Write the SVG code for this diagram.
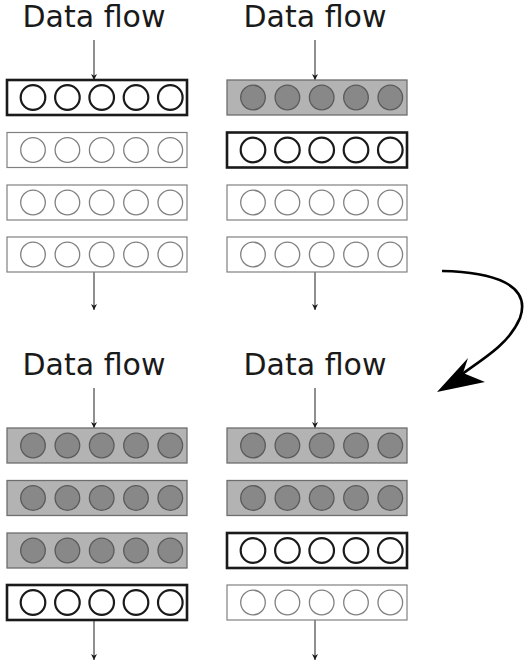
<svg xmlns="http://www.w3.org/2000/svg" width="526" height="669" viewBox="0 0 526 669">
<defs>
<style>
.lbl{font-family:"DejaVu Sans",Verdana,sans-serif;font-size:30px;fill:#1a1a1a;text-anchor:middle}
.thin rect{fill:#fff;stroke:#808080;stroke-width:1.2}
.thin use{fill:#fff;stroke:#808080;stroke-width:1.3}
.thick rect{fill:#fff;stroke:#1a1a1a;stroke-width:2.6}
.thick use{fill:#fff;stroke:#1a1a1a;stroke-width:2.2}
.gray rect{fill:#b3b3b3;stroke:#6e6e6e;stroke-width:1.3}
.gray use{fill:#888;stroke:#5a5a5a;stroke-width:1.3}
.flow{stroke:#333;stroke-width:1.1;fill:none;marker-end:url(#ah)}
</style>
<marker id="ah" viewBox="0 0 10 10" refX="10" refY="5" markerWidth="6" markerHeight="8" markerUnits="userSpaceOnUse" orient="auto">
<path d="M0,0 L10,5 L0,10 L3,5 Z" fill="#1a1a1a"/>
</marker>
<g id="cells">
<circle cx="26" cy="17.5" r="12.3"/><circle cx="60.4" cy="17.5" r="12.3"/><circle cx="94.7" cy="17.5" r="12.3"/><circle cx="129" cy="17.5" r="12.3"/><circle cx="163.3" cy="17.5" r="12.3"/>
</g>
</defs>
<rect width="526" height="669" fill="#fff"/>
<g id="connectors">
<line class="flow" x1="94" y1="40" x2="94" y2="80"/>
<line class="flow" x1="94" y1="272" x2="94" y2="310"/>
<line class="flow" x1="315" y1="40" x2="315" y2="80"/>
<line class="flow" x1="315" y1="272" x2="315" y2="310"/>
<line class="flow" x1="94" y1="388" x2="94" y2="428"/>
<line class="flow" x1="94" y1="620" x2="94" y2="660"/>
<line class="flow" x1="315" y1="388" x2="315" y2="428"/>
<line class="flow" x1="315" y1="620" x2="315" y2="660"/>
<path d="M442,271 C492,272 532,284 520,318 C510,342 488,356 462,374" fill="none" stroke="#000" stroke-width="2.6"/>
<polygon points="437,392 468,358 463,373 485,382" fill="#000"/>
</g>
<g id="panel-top-left">
<text class="lbl" x="94" y="27">Data flow</text>
<g id="tl-1" class="thick" transform="translate(7,80)"><rect width="180" height="35"/><use href="#cells"/></g>
<g id="tl-2" class="thin" transform="translate(7,132.5)"><rect width="180" height="35"/><use href="#cells"/></g>
<g id="tl-3" class="thin" transform="translate(7,185)"><rect width="180" height="35"/><use href="#cells"/></g>
<g id="tl-4" class="thin" transform="translate(7,237)"><rect width="180" height="35"/><use href="#cells"/></g>
</g>
<g id="panel-top-right">
<text class="lbl" x="315" y="27">Data flow</text>
<g id="tr-1" class="gray" transform="translate(227,80)"><rect width="180" height="35"/><use href="#cells"/></g>
<g id="tr-2" class="thick" transform="translate(227,132.5)"><rect width="180" height="35"/><use href="#cells"/></g>
<g id="tr-3" class="thin" transform="translate(227,185)"><rect width="180" height="35"/><use href="#cells"/></g>
<g id="tr-4" class="thin" transform="translate(227,237)"><rect width="180" height="35"/><use href="#cells"/></g>
</g>
<g id="panel-bottom-left">
<text class="lbl" x="94" y="375">Data flow</text>
<g id="bl-1" class="gray" transform="translate(7,428)"><rect width="180" height="35"/><use href="#cells"/></g>
<g id="bl-2" class="gray" transform="translate(7,480.5)"><rect width="180" height="35"/><use href="#cells"/></g>
<g id="bl-3" class="gray" transform="translate(7,533)"><rect width="180" height="35"/><use href="#cells"/></g>
<g id="bl-4" class="thick" transform="translate(7,585)"><rect width="180" height="35"/><use href="#cells"/></g>
</g>
<g id="panel-bottom-right">
<text class="lbl" x="315" y="375">Data flow</text>
<g id="br-1" class="gray" transform="translate(227,428)"><rect width="180" height="35"/><use href="#cells"/></g>
<g id="br-2" class="gray" transform="translate(227,480.5)"><rect width="180" height="35"/><use href="#cells"/></g>
<g id="br-3" class="thick" transform="translate(227,533)"><rect width="180" height="35"/><use href="#cells"/></g>
<g id="br-4" class="thin" transform="translate(227,585)"><rect width="180" height="35"/><use href="#cells"/></g>
</g>
</svg>
